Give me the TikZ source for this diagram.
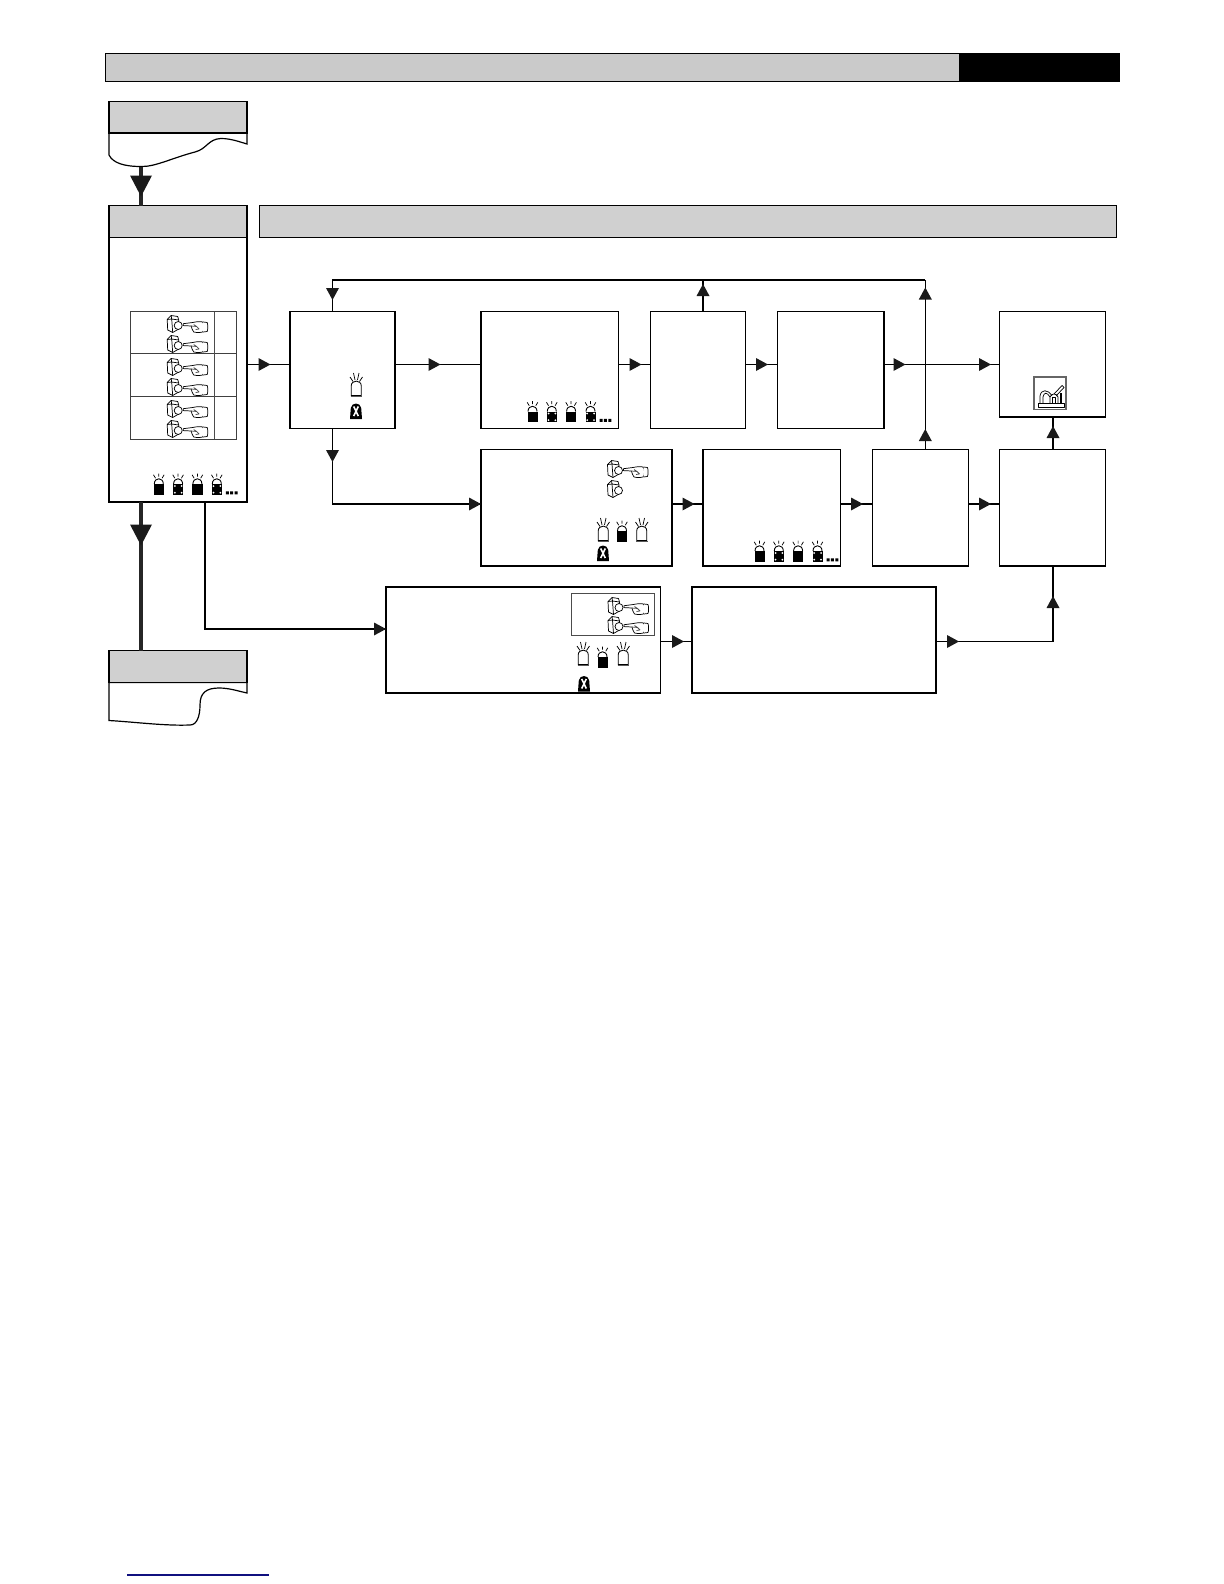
\documentclass[tikz,border=0pt]{standalone}
\usetikzlibrary{fit}
\definecolor{hdr}{HTML}{D0D0D0}
\definecolor{barc}{HTML}{CACACA}
\definecolor{arrowc}{HTML}{1A1A1A}
\definecolor{navy}{HTML}{10107F}
\newcommand\triR[2]{\fill[arrowc,shift={(#1,#2)}] (-6,-6.5)--(6,0)--(-6,6.5)--cycle;}
\newcommand\triD[2]{\fill[arrowc,shift={(#1,#2)}] (-6.5,-6)--(6.5,-6)--(0,6)--cycle;}
\newcommand\triU[2]{\fill[arrowc,shift={(#1,#2)}] (-6.5,6)--(6.5,6)--(0,-6)--cycle;}
\newcommand\triBig[2]{\fill[arrowc,shift={(#1,#2)}] (-11,-10.5)--(11,-10.5)--(0,10.5)--cycle;}
\tikzset{
  x=0.5pt,y=-0.5pt,
  flowbox/.style={draw=black,line width=.52pt,fill=white,inner sep=0pt,outer sep=0pt},
  grayhead/.style={flowbox,fill=hdr},
  tablebox/.style={draw=black!75,line width=.5pt,inner sep=0pt,outer sep=0pt},
  thinflow/.style={draw=black,line width=.6pt},
  midflow/.style={draw=black,line width=.95pt},
  thickflow/.style={draw=black!85,line width=1.9pt},
  icon/.style={line width=.36pt,line join=round},
  pics/pushbtn/.style={code={
    \draw[icon,fill=white] (0.5,4.5)--(4.5,0.5)--(11,1.5)--(12,5)--(12,14)--(6,17.5)--(1,15)--cycle;
    \draw[icon] (4.5,0.5)--(5,4)--(12,5) (0.5,4.5)--(5,4) (5,4)--(6,17.5);
    \draw[icon,fill=white] (11.5,10.5) circle (4);
  }},
  pics/handicon/.style={code={
    \draw[icon,fill=white] (16.5,8.7)--(26,7.5)
      .. controls (30,6.5) and (34,6.5) .. (36,7)
      .. controls (38,9) and (38,15) .. (36,17)
      .. controls (32,17.8) and (29,17.8) .. (27,17)
      .. controls (25.5,15) and (25,13) .. (24.5,11)--(16.5,10.6)--cycle;
    \draw[icon,black!70] (24.5,11)--(30,11.5)--(32.5,14) (27,9.5)--(30,11.5) (29,14.5)--(32.5,14);
    \draw[icon,fill=white] (36.5,7) -- (40.5,7.5) .. controls (41.3,10) and (41.3,14) .. (40.5,16.5) -- (36.5,17);
  }},
  pics/pressicon/.style={code={\pic {pushbtn}; \pic {handicon};}},
  pics/beacondark/.style={code={
    \draw[icon] (5.5,-.5)--(5.5,2.5) (0.2,0.8)--(2.2,4.2) (10.8,0.8)--(8.8,4.2);
    \draw[line width=.45pt,fill=white] (1,10) .. controls (1,3) and (10,3) .. (10,10);
    \fill[black] (0.5,10) rectangle (10.7,20.5);
  }},
  pics/beacondots/.style={code={
    \pic {beacondark};
    \fill[white] (2.2,12) circle (1) (9,12) circle (1) (2.2,18.7) circle (1) (9,18.7) circle (1);
  }},
  pics/beaconwhite/.style={code={
    \draw[icon] (3.5,0)--(5,7) (9,0)--(7.5,7) (0,4)--(3,8.5) (12.5,4)--(9.5,8.5);
    \draw[line width=.42pt,fill=white] (1.2,22.5) -- (1.2,13) .. controls (1.2,6.5) and (11.3,6.5) .. (11.3,13) -- (11.3,22.5) -- cycle;
    \draw[line width=.8pt,black!65] (0.5,23.5)--(12,23.5);
  }},
  pics/tombx/.style={code={
    \fill[black] (0,16) -- (0.8,5) .. controls (1.5,-1) and (10.5,-1) .. (11.2,5) -- (12,16) -- cycle;
    \draw[white,line width=.8pt] (3.7,3.5)--(8.3,13) (8.3,3.5)--(3.7,13);
  }},
  pics/beaconrow/.style={code={
    \pic at (0,0) {beacondark};
    \pic at (19.3,0) {beacondots};
    \pic at (38.6,0) {beacondark};
    \pic at (58,0) {beacondots};
    \fill[black] (72.5,17.3) rectangle +(3,3) (76.9,17.3) rectangle +(3,3) (81.3,17.3) rectangle +(3,3);
  }},
}
\begin{document}
\begin{tikzpicture}
\useasboundingbox (0,0) rectangle (1224,1584);
% top bar
\node[flowbox,fill=barc,line width=.7pt,fit={(105.5,53.5)(959.5,81.5)}] (topbar) {};
\node[flowbox,fill=black,fit={(959.5,53.5)(1119,81.5)}] (topblack) {};
% start document shape
\coordinate (dsb) at (141,166.5);
\draw[line width=.6pt,fill=white] (109,133) -- (109,155)
  .. controls (113,163) and (124,166.5) .. (dsb)
  .. controls (155,167) and (172,158) .. (195,152)
  .. controls (207,149) and (208,139) .. (221,138.5)
  .. controls (231,138.5) and (240,142) .. (247,144) -- (247,133) -- cycle;
\node[grayhead,fit={(109,101.5)(247,133)}] (dochead) {};
% main left column
\node[flowbox,fit={(109,237.5)(247,502)}] (leftbody) {};
\node[grayhead,fit={(109,205.5)(247,237.5)}] (lefthead) {};
\node[grayhead,fit={(259.5,205.5)(1116.7,237.5)}] (widehead) {};
% end document shape
\coordinate (deb) at (190,725);
\draw[line width=.6pt,fill=white] (109,682.5) -- (109,720.5)
  .. controls (135,722) and (165,726) .. (deb)
  .. controls (197,725) and (200,716) .. (200,705)
  .. controls (200,693) and (206,688) .. (219,688)
  .. controls (229,688) and (238,691) .. (247,693) -- (247,682.5) -- cycle;
\node[grayhead,fit={(109,650.5)(247,682.5)}] (endhead) {};
% table
\node[tablebox,fit={(130.5,311.5)(236.5,353.5)}] (row1) {};
\node[tablebox,fit={(130.5,353.5)(236.5,396)}] (row2) {};
\node[tablebox,fit={(130.5,396)(236.5,439)}] (row3) {};
\draw[line width=.45pt,black!70] (row1.north -| 214,0) -- (row3.south -| 214,0);
\foreach \yy in {315,335,358,378,400,420} \pic at (166.7,\yy) {pressicon};
\pic at (153.3,474) {beaconrow};
% flow boxes
\node[flowbox,fit={(290,311.3)(395,428.5)}] (A) {};
\node[flowbox,fit={(481,311.3)(618.5,428.5)}] (B) {};
\node[flowbox,fit={(650.5,311.3)(745.5,428.5)}] (C) {};
\node[flowbox,fit={(777.5,311.3)(884,428.5)}] (D) {};
\node[flowbox,fit={(999.5,311.3)(1105.7,417)}] (E) {};
\node[flowbox,fit={(481,449.5)(672,566)}] (F) {};
\node[flowbox,fit={(703,449.5)(840.5,566)}] (G) {};
\node[flowbox,fit={(872.5,449.5)(968.5,566)}] (H) {};
\node[flowbox,fit={(999.5,449.5)(1105.7,566)}] (I) {};
\node[flowbox,fit={(386,587)(660.5,693)}] (J) {};
\node[flowbox,fit={(692,587)(936,693)}] (K) {};
\node[draw=black!70,line width=.5pt,inner sep=0pt,fit={(571,593)(654.7,635)}] (Jin) {};
% named levels
\coordinate (rowa) at (0,364.5);
\coordinate (rowb) at (0,504);
\coordinate (rowc) at (0,641.5);
\coordinate (looptop) at (0,280);
\coordinate (xA) at (332.5,0);
\coordinate (xC) at (703,0);
\coordinate (xH) at (925.3,0);
\coordinate (xI) at (1053,0);
\coordinate (xdoc) at (141,0);
\coordinate (xl) at (205,0);
% icons in boxes
\pic at (350,373) {beaconwhite};
\pic at (350,403) {tombx};
\pic at (527,401.5) {beaconrow};
\pic at (607,460) {pressicon};
\pic at (607,480) {pushbtn};
\pic at (597,518) {beaconwhite};
\pic at (616.5,521) {beacondark};
\pic at (635.5,518) {beaconwhite};
\pic at (597,545) {tombx};
\pic at (754,541) {beaconrow};
\pic at (607.5,597) {pressicon};
\pic at (607.5,616) {pressicon};
\pic at (577,642) {beaconwhite};
\pic at (597,647) {beacondark};
\pic at (617,642) {beaconwhite};
\pic at (578,675.5) {tombx};
% machine icon
\node[draw=black!60,fill=white,line width=.55pt,inner sep=0pt,fit={(1034,377)(1066,409.5)}] (mach) {};
\draw[icon] (1038,403.5) rectangle (1064,407);
\draw[icon] (1050,403.5) -- (1050,397) .. controls (1051,393) and (1057,393) .. (1058,397) -- (1058,403.5);
\draw[icon] (1052.5,397.5) rectangle (1055.5,403.5);
\draw[icon] (1040,403.5) -- (1040,396) .. controls (1041,389) and (1048,389) .. (1052,396);
\draw[icon] (1043,403.5) -- (1043,397) .. controls (1044,392) and (1047,392) .. (1050,397);
\draw[icon] (1054,394) -- (1062,385.5) -- (1064,387.5) -- (1056,396);
\draw[black,line width=.8pt] (1061,393) -- (1061,403.5);
% connectors
\draw[thickflow] (dsb) -- (dsb |- lefthead.north);
\draw[thickflow] (leftbody.south -| xdoc) -- (endhead.north -| xdoc);
\draw[thinflow] (leftbody.south -| xl) -- (xl |- 0,629) -- (J.west |- 0,629);
\draw[thinflow] (leftbody.east |- rowa) -- (A.west |- rowa);
\draw[thinflow] (A.east |- rowa) -- (B.west |- rowa);
\draw[thinflow] (B.east |- rowa) -- (C.west |- rowa);
\draw[thinflow] (C.east |- rowa) -- (D.west |- rowa);
\draw[thinflow] (D.east |- rowa) -- (E.west |- rowa);
\draw[midflow] (xA |- A.north) -- (xA |- looptop) -- (xH |- looptop);
\draw[thinflow] (xH |- looptop) -- (xH |- H.north);
\draw[thinflow] (xC |- C.north) -- (xC |- looptop);
\draw[midflow] (xA |- A.south) -- (xA |- rowb) -- (F.west |- rowb);
\draw[thinflow] (F.east |- rowb) -- (G.west |- rowb);
\draw[thinflow] (G.east |- rowb) -- (H.west |- rowb);
\draw[thinflow] (H.east |- rowb) -- (I.west |- rowb);
\draw[midflow] (xI |- I.north) -- (xI |- E.south);
\draw[thinflow] (J.east |- rowc) -- (K.west |- rowc);
\draw[thinflow] (K.east |- rowc) -- (xI |- rowc) -- (xI |- I.south);
% triangles
\triBig{141}{186}
\triBig{141}{535}
\triR{264.5}{364.5}
\triR{434.5}{364.5}
\triR{635.5}{364.5}
\triR{762}{364.5}
\triR{899.5}{364.5}
\triR{985}{364.5}
\triD{332.5}{294}
\triU{703}{290}
\triU{925.3}{293.5}
\triU{925.3}{435}
\triD{332.5}{456}
\triR{475}{504}
\triR{688.5}{504}
\triR{857}{504}
\triR{985}{504}
\triU{1053}{432}
\triR{380}{629}
\triR{678}{641.5}
\triR{953}{641.5}
\triU{1053}{602}
% footer link rule
\coordinate (linkl) at (127,1575);
\coordinate (linkr) at (269,1575);
\draw[navy,line width=.55pt] (linkl) -- (linkr);
\end{tikzpicture}
\end{document}
